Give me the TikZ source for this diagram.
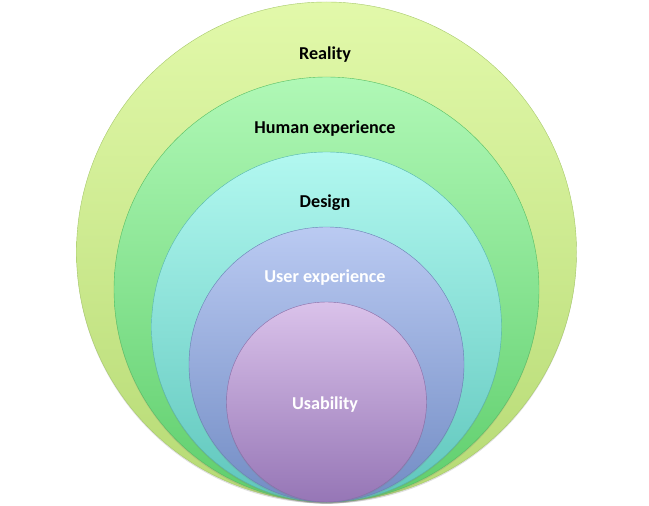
\documentclass[tikz,border=0pt]{standalone}
\usepackage{fontspec}
\setmainfont{Carlito}
\usetikzlibrary{shadows}
\definecolor{reTop}{HTML}{E2F9AA}
\definecolor{reBot}{HTML}{B6DA74}
\definecolor{huTop}{HTML}{B0F8B6}
\definecolor{huBot}{HTML}{5ECE6C}
\definecolor{deTop}{HTML}{B2F8F0}
\definecolor{deBot}{HTML}{5EC6BC}
\definecolor{uxTop}{HTML}{BACAF2}
\definecolor{uxBot}{HTML}{728CC4}
\definecolor{usTop}{HTML}{DAC2EA}
\definecolor{usBot}{HTML}{9676B6}
\tikzset{
  ring/.style={circle, inner sep=0pt, draw=#1, line width=0.3pt,
    drop shadow={opacity=0.25, shadow xshift=0pt, shadow yshift=-1.2pt}},
  lbl/.style={font=\bfseries\fontsize{13.6}{16}\selectfont, text=#1, inner sep=1pt},
}
\begin{document}
\begin{tikzpicture}[x=0.75pt,y=-0.75pt]
\useasboundingbox (0,0) rectangle (649,506);
\node[ring=reBot!92!black, minimum size=375pt, top color=reTop, bottom color=reBot] (reality) at (326.5,252) {};
\node[ring=huBot!92!black, minimum size=318.75pt, top color=huTop, bottom color=huBot] (human) at (326.5,289.5) {};
\node[ring=deBot!92!black, minimum size=262.5pt, top color=deTop, bottom color=deBot] (design) at (326.5,327) {};
\node[ring=uxBot!92!black, minimum size=206.25pt, top color=uxTop, bottom color=uxBot] (ux) at (326.5,364.5) {};
\node[ring=usBot!92!black, minimum size=150pt, top color=usTop, bottom color=usBot] (usab) at (326.5,402) {};
\node[lbl=black] (tReality) at (325,55) {Reality};
\node[lbl=black] (tHuman) at (325,129) {Human experience};
\node[lbl=black] (tDesign) at (325,203) {Design};
\node[lbl=white] (tUX) at (325,278) {User experience};
\node[lbl=white] (tUsab) at (325,405) {Usability};
\end{tikzpicture}
\end{document}
